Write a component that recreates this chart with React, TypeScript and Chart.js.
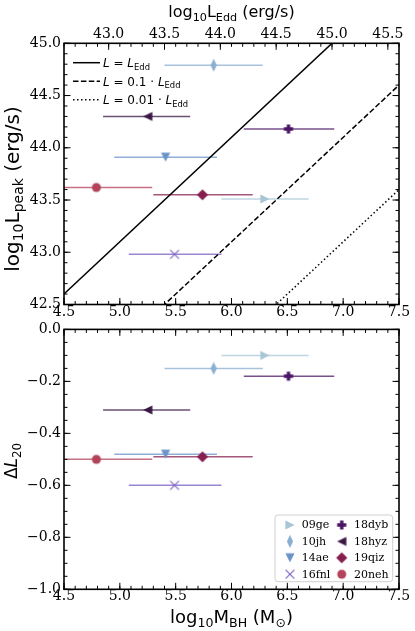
import React, { useEffect, useRef } from "react";
import { Chart, registerables } from "chart.js";
Chart.register(...registerables);

// ---------------- data ----------------
const sneNames = ["09ge", "10jh", "14ae", "16fnl", "18dyb", "18hyz", "19qiz", "20neh"];
const logMBH = [6.3, 5.84, 5.41, 5.49, 6.51, 5.25, 5.74, 4.79];
const logMBHLow = [5.91, 5.4, 4.95, 5.08, 6.11, 4.85, 5.3, 4.3];
const logMBHHigh = [6.69, 6.28, 5.87, 5.91, 6.92, 5.63, 6.19, 5.29];
const logLpeak = [43.51, 44.79, 43.91, 42.98, 44.18, 44.3, 43.55, 43.62];
const deltaL20 = [-0.1, -0.15, -0.48, -0.6, -0.18, -0.31, -0.49, -0.5];
const sneColors = ["#a8c6d6", "#8aafd0", "#6b94c9", "#7a5dc1", "#4b1564", "#3a1745", "#861f4f", "#b3425a"];
const sneMarkers = ["triRight", "thinDiamond", "triDown", "x", "plus", "triLeft", "diamond", "circle"];

const massRange = [4.5, 7.5];
const lPeakRange = [42.5, 45.0];
const deltaRange = [-1.0, 0.0];
const massTicks = [4.5, 5.0, 5.5, 6.0, 6.5, 7.0, 7.5];
const lEddTicks = [43.0, 43.5, 44.0, 44.5, 45.0, 45.5];
const lPeakTicks = [42.5, 43.0, 43.5, 44.0, 44.5, 45.0];
const deltaTicks = [0.0, -0.2, -0.4, -0.6, -0.8, -1.0];

const LOG_EDD_PER_MSUN = 38.1; // log10(1.26e38 erg/s)
const eddLineMass = [4.5, 7.5];
const eddFractions = [1, 0.1, 0.01];
const eddDashes: number[][] = [[], [5.5, 2.4], [1.5, 2.5]];

// ---------------- helpers ----------------
const SANS = "'DejaVu Sans', sans-serif";
const SERIF = "'DejaVu Serif', serif";
type Seg = { t: string; sub?: boolean; it?: boolean };

function segFont(s: Seg, size: number, fam: string) {
  const sz = s.sub ? size * 0.7 : size;
  return `${s.it ? "italic " : ""}${sz}px ${fam}`;
}
function richWidth(ctx: CanvasRenderingContext2D, segs: Seg[], size: number, fam: string) {
  let w = 0;
  for (const s of segs) {
    ctx.font = segFont(s, size, fam);
    w += ctx.measureText(s.t).width;
  }
  return w;
}
function drawRich(ctx: CanvasRenderingContext2D, segs: Seg[], x: number, y: number, size: number, fam: string, align: "left" | "center") {
  let cx = align === "center" ? x - richWidth(ctx, segs, size, fam) / 2 : x;
  ctx.textAlign = "left";
  ctx.textBaseline = "alphabetic";
  ctx.fillStyle = "#000";
  for (const s of segs) {
    ctx.font = segFont(s, size, fam);
    ctx.fillText(s.t, cx, s.sub ? y + size * 0.22 : y);
    cx += ctx.measureText(s.t).width;
  }
}
function drawRichRotated(ctx: CanvasRenderingContext2D, segs: Seg[], x: number, y: number, size: number, fam: string) {
  ctx.save();
  ctx.translate(x, y);
  ctx.rotate(-Math.PI / 2);
  drawRich(ctx, segs, 0, 0, size, fam, "center");
  ctx.restore();
}
function steps(a: number, b: number, step: number) {
  const n = Math.round((b - a) / step);
  const out: number[] = [];
  for (let i = 0; i <= n; i++) out.push(a + i * step);
  return out;
}
function withAlpha(hex: string, a: number) {
  const r = parseInt(hex.slice(1, 3), 16), g = parseInt(hex.slice(3, 5), 16), b = parseInt(hex.slice(5, 7), 16);
  return `rgba(${r},${g},${b},${a})`;
}
function makeMarker(kind: string, color: string): HTMLCanvasElement {
  const c = document.createElement("canvas");
  c.width = 16;
  c.height = 16;
  const g = c.getContext("2d")!;
  const cx = 8, cy = 8;
  g.fillStyle = color;
  g.strokeStyle = color;
  g.beginPath();
  switch (kind) {
    case "triRight":
      g.moveTo(cx + 4.6, cy); g.lineTo(cx - 4.6, cy - 4.6); g.lineTo(cx - 4.6, cy + 4.6); break;
    case "triLeft":
      g.moveTo(cx - 4.6, cy); g.lineTo(cx + 4.6, cy - 4.6); g.lineTo(cx + 4.6, cy + 4.6); break;
    case "triDown":
      g.moveTo(cx, cy + 4.6); g.lineTo(cx - 4.6, cy - 4.6); g.lineTo(cx + 4.6, cy - 4.6); break;
    case "diamond":
      g.moveTo(cx, cy - 5.6); g.lineTo(cx + 5.6, cy); g.lineTo(cx, cy + 5.6); g.lineTo(cx - 5.6, cy); break;
    case "thinDiamond":
      g.moveTo(cx, cy - 6.4); g.lineTo(cx + 3.1, cy); g.lineTo(cx, cy + 6.4); g.lineTo(cx - 3.1, cy); break;
    case "plus":
      g.rect(cx - 1.7, cy - 4.6, 3.4, 9.2); g.rect(cx - 4.6, cy - 1.7, 9.2, 3.4); break;
    case "circle":
      g.arc(cx, cy, 4.5, 0, Math.PI * 2); break;
    case "x":
      g.lineWidth = 1.1;
      g.moveTo(cx - 4.4, cy - 4.4); g.lineTo(cx + 4.4, cy + 4.4);
      g.moveTo(cx - 4.4, cy + 4.4); g.lineTo(cx + 4.4, cy - 4.4);
      g.stroke();
      return c;
  }
  g.closePath();
  g.fill();
  return c;
}

type Side = { side: "top" | "bottom" | "left" | "right"; scaleId: string; majors: number[]; minors: number[] };
function drawTicksFrame(chart: any, sides: Side[]) {
  const { ctx, chartArea: a } = chart;
  ctx.save();
  ctx.strokeStyle = "#000";
  ctx.lineWidth = 1;
  for (const s of sides) {
    const sc = chart.scales[s.scaleId];
    const tick = (v: number, len: number) => {
      const p = sc.getPixelForValue(v);
      ctx.beginPath();
      if (s.side === "bottom") { ctx.moveTo(p, a.bottom); ctx.lineTo(p, a.bottom - len); }
      if (s.side === "top") { ctx.moveTo(p, a.top); ctx.lineTo(p, a.top + len); }
      if (s.side === "left") { ctx.moveTo(a.left, p); ctx.lineTo(a.left + len, p); }
      if (s.side === "right") { ctx.moveTo(a.right, p); ctx.lineTo(a.right - len, p); }
      ctx.stroke();
    };
    s.minors.forEach((v) => tick(v, 3.5));
    s.majors.forEach((v) => tick(v, 6.5));
  }
  ctx.lineWidth = 1.6;
  ctx.strokeRect(a.left, a.top, a.right - a.left, a.bottom - a.top);
  ctx.restore();
}
function drawErrorBars(chart: any, yValues: number[]) {
  const { ctx, chartArea: a } = chart;
  const xs = chart.scales.x, ys = chart.scales.y;
  ctx.save();
  ctx.beginPath();
  ctx.rect(a.left, a.top, a.right - a.left, a.bottom - a.top);
  ctx.clip();
  ctx.lineWidth = 1.5;
  sneNames.forEach((_, i) => {
    const y = ys.getPixelForValue(yValues[i]);
    ctx.strokeStyle = withAlpha(sneColors[i], 0.75);
    ctx.beginPath();
    ctx.moveTo(xs.getPixelForValue(logMBHLow[i]), y);
    ctx.lineTo(xs.getPixelForValue(logMBHHigh[i]), y);
    ctx.stroke();
  });
  ctx.restore();
}

const tickFont = { family: SERIF, size: 14 };
function linAxis(range: number[], ticksArr: number[], fmt: (v: number) => string, fit: number, horizontal: boolean, padding: number, position: string, extra: any = {}) {
  return {
    type: "linear",
    position,
    min: range[0],
    max: range[1],
    grid: { display: false, drawTicks: false },
    border: { display: false },
    ticks: { color: "#000", font: tickFont, padding, autoSkip: false, maxRotation: 0, minRotation: 0, callback: (v: any) => fmt(Number(v)) },
    afterBuildTicks: (ax: any) => { ax.ticks = ticksArr.map((v) => ({ value: v })); },
    afterFit: (ax: any) => { if (horizontal) ax.height = fit; else ax.width = fit; },
    ...extra,
  };
}
const fmt1 = (v: number) => v.toFixed(1);
const fmtSigned = (v: number) => (v < 0 ? "\u2212" : "") + Math.abs(v).toFixed(1);

function sneDatasets(yValues: number[], markers: HTMLCanvasElement[]) {
  return sneNames.map((name, i) => ({
    label: name,
    data: [{ x: logMBH[i], y: yValues[i] }],
    pointStyle: markers[i],
    pointRadius: 6,
    backgroundColor: sneColors[i],
    borderColor: sneColors[i],
    showLine: false,
  }));
}

export default function App() {
  const topRef = useRef<HTMLCanvasElement>(null);
  const botRef = useRef<HTMLCanvasElement>(null);

  useEffect(() => {
    const markers = sneNames.map((_, i) => makeMarker(sneMarkers[i], sneColors[i]));
    const lEddRange = massRange.map((m) => m + LOG_EDD_PER_MSUN);

    const eddSets = eddFractions.map((f, k) => ({
      label: "edd" + k,
      data: eddLineMass.map((m) => ({ x: m, y: m + LOG_EDD_PER_MSUN + Math.log10(f) })),
      showLine: true,
      pointRadius: 0,
      borderColor: "#000",
      borderWidth: 1.5,
      borderDash: eddDashes[k],
      borderCapStyle: "butt",
      fill: false,
    }));

    const topLegend: Seg[][] = [
      [{ t: "L", it: true }, { t: " = " }, { t: "L", it: true }, { t: "Edd", sub: true }],
      [{ t: "L", it: true }, { t: " = 0.1 \u00b7 " }, { t: "L", it: true }, { t: "Edd", sub: true }],
      [{ t: "L", it: true }, { t: " = 0.01 \u00b7 " }, { t: "L", it: true }, { t: "Edd", sub: true }],
    ];

    const topPlugin = {
      id: "topDecor",
      beforeDatasetsDraw(chart: any) { drawErrorBars(chart, logLpeak); },
      afterDraw(chart: any) {
        const { ctx, chartArea: a } = chart;
        drawTicksFrame(chart, [
          { side: "bottom", scaleId: "x", majors: massTicks, minors: steps(massRange[0], massRange[1], 0.1) },
          { side: "top", scaleId: "x2", majors: lEddTicks, minors: steps(lEddRange[0], lEddRange[1], 0.1) },
          { side: "left", scaleId: "y", majors: lPeakTicks, minors: steps(lPeakRange[0], lPeakRange[1], 0.1) },
          { side: "right", scaleId: "y", majors: lPeakTicks, minors: steps(lPeakRange[0], lPeakRange[1], 0.1) },
        ]);
        ctx.save();
        drawRich(ctx, [{ t: "log" }, { t: "10", sub: true }, { t: "L" }, { t: "Edd", sub: true }, { t: " (erg/s)" }], (a.left + a.right) / 2, 17, 16, SANS, "center");
        drawRichRotated(ctx, [{ t: "log" }, { t: "10", sub: true }, { t: "L" }, { t: "peak", sub: true }, { t: " (erg/s)" }], 19, 189, 20, SANS);
        // legend
        const rows = [62.7, 81.3, 99.7];
        rows.forEach((ry, k) => {
          ctx.save();
          ctx.strokeStyle = "#000";
          ctx.lineWidth = 1.5;
          ctx.setLineDash(eddDashes[k]);
          ctx.beginPath();
          ctx.moveTo(a.left + 9, ry);
          ctx.lineTo(a.left + 36, ry);
          ctx.stroke();
          ctx.restore();
          drawRich(ctx, topLegend[k], a.left + 39, ry + 4.3, 12, SANS, "left");
        });
        ctx.restore();
      },
    };

    const top = new Chart(topRef.current!, {
      type: "scatter",
      data: { datasets: [...eddSets, ...sneDatasets(logLpeak, markers)] as any },
      options: {
        animation: false,
        responsive: true,
        maintainAspectRatio: false,
        events: [],
        layout: { padding: { left: 0, right: 16, top: 0, bottom: 0 } },
        plugins: { legend: { display: false }, tooltip: { enabled: false } },
        scales: {
          x: linAxis(massRange, massTicks, fmt1, 13.5, true, -1, "bottom"),
          x2: linAxis(lEddRange, lEddTicks, fmt1, 43.3, true, 1, "top", { axis: "x" }),
          y: linAxis(lPeakRange, lPeakTicks, fmt1, 64, false, 3, "left"),
        } as any,
      },
      plugins: [topPlugin],
    });

    const botPlugin = {
      id: "botDecor",
      beforeDatasetsDraw(chart: any) { drawErrorBars(chart, deltaL20); },
      afterDraw(chart: any) {
        const { ctx, chartArea: a } = chart;
        drawTicksFrame(chart, [
          { side: "bottom", scaleId: "x", majors: massTicks, minors: steps(massRange[0], massRange[1], 0.1) },
          { side: "top", scaleId: "x", majors: massTicks, minors: steps(massRange[0], massRange[1], 0.1) },
          { side: "left", scaleId: "y", majors: deltaTicks, minors: steps(deltaRange[0], deltaRange[1], 0.05) },
          { side: "right", scaleId: "y", majors: deltaTicks, minors: steps(deltaRange[0], deltaRange[1], 0.05) },
        ]);
        ctx.save();
        drawRich(ctx, [{ t: "log" }, { t: "10", sub: true }, { t: "M" }, { t: "BH", sub: true }, { t: " (M" }, { t: "\u2299", sub: true }, { t: ")" }], (a.left + a.right) / 2, 305, 18, SANS, "center");
        drawRichRotated(ctx, [{ t: "\u0394" }, { t: "L", it: true }, { t: "20", sub: true }], 17, 143, 17, SANS);
        // legend box
        const bx = 275, by = 197, bw = 117.7, bh = 66.7;
        ctx.beginPath();
        if ((ctx as any).roundRect) (ctx as any).roundRect(bx, by, bw, bh, 3);
        else ctx.rect(bx, by, bw, bh);
        ctx.fillStyle = "rgba(255,255,255,0.8)";
        ctx.fill();
        ctx.strokeStyle = "#d0d0d0";
        ctx.lineWidth = 1;
        ctx.stroke();
        sneNames.forEach((name, i) => {
          const col = Math.floor(i / 4), row = i % 4;
          const my = by + 10 + row * 16.4;
          const mx = bx + (col === 0 ? 15 : 66.7);
          ctx.drawImage(markers[i], mx - 8, my - 8);
          ctx.font = `11px ${SERIF}`;
          ctx.fillStyle = "#000";
          ctx.textAlign = "left";
          ctx.textBaseline = "middle";
          ctx.fillText(name, bx + (col === 0 ? 26.7 : 79), my + 0.5);
        });
        ctx.restore();
      },
    };

    const bot = new Chart(botRef.current!, {
      type: "scatter",
      data: { datasets: sneDatasets(deltaL20, markers) as any },
      options: {
        animation: false,
        responsive: true,
        maintainAspectRatio: false,
        events: [],
        layout: { padding: { left: 0, right: 16, top: 11.3, bottom: 0 } },
        plugins: { legend: { display: false }, tooltip: { enabled: false } },
        scales: {
          x: linAxis(massRange, massTicks, fmt1, 41.7, true, -1, "bottom"),
          y: linAxis(deltaRange, deltaTicks, fmtSigned, 64, false, 3, "left"),
        } as any,
      },
      plugins: [botPlugin],
    });

    return () => {
      top.destroy();
      bot.destroy();
    };
  }, []);

  return (
    <div style={{ position: "absolute", left: 0, top: 0, width: 415, height: 631, background: "#fff" }}>
      <div style={{ position: "absolute", left: 0, top: 0, width: 415, height: 318 }}>
        <canvas ref={topRef} />
      </div>
      <div style={{ position: "absolute", left: 0, top: 318, width: 415, height: 313 }}>
        <canvas ref={botRef} />
      </div>
    </div>
  );
}
